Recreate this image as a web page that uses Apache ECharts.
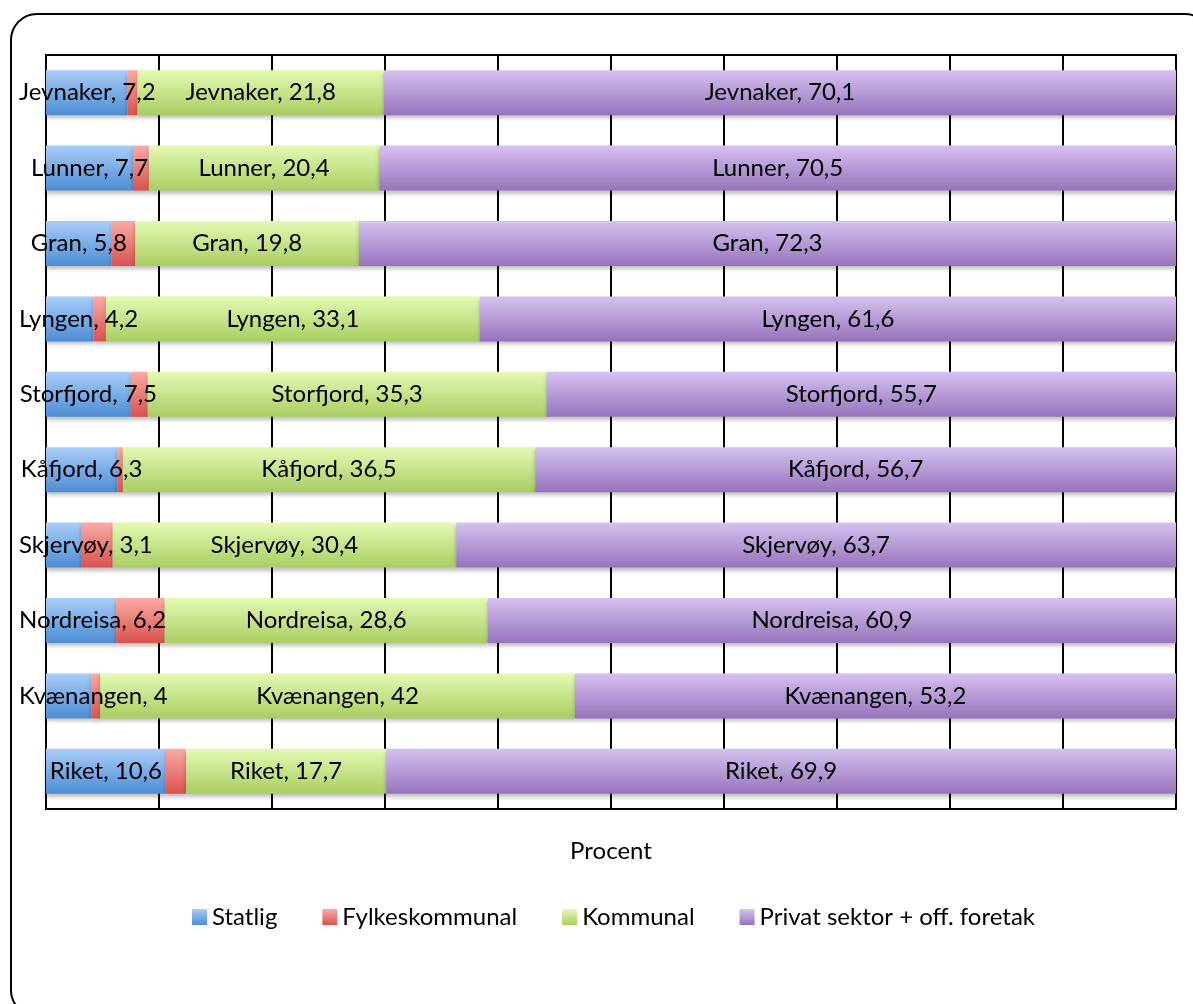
<!DOCTYPE html>
<html>
<head>
<meta charset="utf-8">
<script src="https://cdn.jsdelivr.net/npm/echarts@6/dist/echarts.min.js"></script>
<style>
html,body{margin:0;padding:0;background:#fff;}
#chart{width:1193px;height:1004px;}
</style>
</head>
<body>
<div id="chart"></div>
<script>
const categories = ["Jevnaker","Lunner","Gran","Lyngen","Storfjord","Kåfjord","Skjervøy","Nordreisa","Kvænangen","Riket"];
const statlig = [7.2,7.7,5.8,4.2,7.5,6.3,3.1,6.2,4,10.6];
const fylkeskommunal = [0.9,1.4,2.1,1.1,1.5,0.5,2.8,4.3,0.8,1.8];
const kommunal = [21.8,20.4,19.8,33.1,35.3,36.5,30.4,28.6,42,17.7];
const privat = [70.1,70.5,72.3,61.6,55.7,56.7,63.7,60.9,53.2,69.9];
const seriesNames = ["Statlig","Fylkeskommunal","Kommunal","Privat sektor + off. foretak"];

const FONT = 'Lato';
const FS = 24;
function grad(top, bottom){
  return new echarts.graphic.LinearGradient(0,0,0,1,[{offset:0,color:top},{offset:1,color:bottom}]);
}
const colors = [
  grad('#a9cdf8','#4d8dd4'),
  grad('#fbaaa6','#d9534e'),
  grad('#e4fab3','#aacd62'),
  grad('#d5c2f0','#9674bb')
];
function fmt(p){ return p.name + ', ' + String(p.value).replace('.', ','); }
const datas = [statlig, fylkeskommunal, kommunal, privat];
const series = datas.map((d,i)=>{
  const s = {
    name: seriesNames[i],
    type:'bar',
    stack:'total',
    data:d,
    barWidth:45,
    itemStyle:{color:colors[i], shadowColor:'rgba(0,0,0,0.25)', shadowBlur:4, shadowOffsetY:3},
    label:{show: i!==1, position:'inside', formatter:fmt, color:'#000', fontFamily:FONT, fontSize:FS},
    emphasis:{disabled:true},
    animation:false
  };
  if (i === 0) {
    // keep labels inside the chart frame, as the original does
    s.labelLayout = function(p){
      const r = p.labelRect;
      if (r.x < 19) return {x: 19 + r.width/2, y: r.y + r.height/2, align:'center', verticalAlign:'middle'};
      return {};
    };
  }
  return s;
});

const chart = echarts.init(document.getElementById('chart'));
chart.setOption({
  animation:false,
  backgroundColor:'#fff',
  graphic:[{type:'rect', shape:{x:11,y:14,width:1200,height:1002,r:26}, style:{fill:'none',stroke:'#000',lineWidth:2}, z:-1}],
  grid:{left:46,right:17,top:55,bottom:195,show:true,borderColor:'#000',borderWidth:2,containLabel:false},
  xAxis:{type:'value',min:0,max:100,interval:10,
    axisLabel:{show:false},axisTick:{show:false},
    axisLine:{show:true,lineStyle:{color:'#000',width:2}},
    splitLine:{show:true,lineStyle:{color:'#000',width:2}},
    name:'Procent',nameLocation:'middle',nameGap:30,
    nameTextStyle:{color:'#000',fontFamily:FONT,fontSize:FS}},
  yAxis:{type:'category',data:categories,inverse:true,
    axisLabel:{show:false},axisTick:{show:false},
    axisLine:{show:true,lineStyle:{color:'#000',width:2}}},
  legend:{data:seriesNames,bottom:70,left:187,itemWidth:15,itemHeight:16,itemGap:45,
    icon:'rect',textStyle:{color:'#000',fontFamily:FONT,fontSize:FS}},
  series:series
});
</script>
</body>
</html>
